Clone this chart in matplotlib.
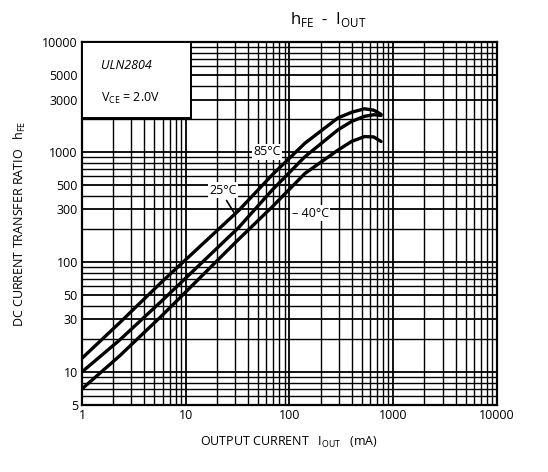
import matplotlib
matplotlib.use('Agg')
import matplotlib.pyplot as plt
from matplotlib.ticker import FixedLocator, NullFormatter, LogLocator

plt.rcParams['font.family'] = ['Open Sans', 'DejaVu Sans']

# Values (I_OUT in mA, hFE)
i_out = [1, 2.31, 6.0, 32.5, 67.8, 141, 294, 400, 530, 650, 765]
hfe_85 = [13.3, 28, 67, 294, 615, 1200, 2040, 2300, 2470, 2400, 2200]
hfe_25 = [10, 19.5, 45, 206, 448, 905, 1590, 1900, 2110, 2180, 2150]
hfe_m40 = [7.0, 14, 33, 161, 315, 637, 1040, 1250, 1380, 1370, 1245]

x_ticks = [1, 10, 100, 1000, 10000]
y_ticks = [5, 10, 30, 50, 100, 300, 500, 1000, 3000, 5000, 10000]

fig = plt.figure(figsize=(5.48, 4.72), dpi=100)
ax = fig.add_axes([0.1496, 0.142, 0.757, 0.769])

ax.set_xscale('log')
ax.set_yscale('log')
ax.set_xlim(1, 10000)
ax.set_ylim(5, 10000)

ax.xaxis.set_major_locator(FixedLocator(x_ticks))
ax.xaxis.set_minor_locator(LogLocator(base=10, subs=range(2, 10)))
ax.xaxis.set_minor_formatter(NullFormatter())
ax.set_xticklabels([str(t) for t in x_ticks])
ax.yaxis.set_major_locator(FixedLocator(y_ticks))
ax.yaxis.set_minor_locator(LogLocator(base=10, subs=range(2, 10)))
ax.yaxis.set_minor_formatter(NullFormatter())
ax.set_yticklabels([str(t) for t in y_ticks])
ax.tick_params(which='both', length=0, labelsize=9, pad=3)

ax.grid(which='major', color='black', lw=1.3)
ax.grid(which='minor', color='black', lw=1.0)
ax.set_axisbelow(True)
for s in ax.spines.values():
    s.set_linewidth(1.6)

for vals in (hfe_85, hfe_25, hfe_m40):
    ax.plot(i_out, vals, color='black', lw=2.4, solid_capstyle='round', zorder=3)

# inset box with part number
ax.add_patch(plt.Rectangle((0, 0.79), 0.262, 0.21, transform=ax.transAxes,
                           facecolor='white', edgecolor='black', lw=1.4, zorder=4))
ax.text(0.045, 0.935, 'ULN2804', transform=ax.transAxes, fontsize=9,
        style='italic', va='center', zorder=5)
ax.text(0.045, 0.845, r'V$_{\mathregular{CE}}$ = 2.0V', transform=ax.transAxes,
        fontsize=9, va='center', zorder=5)

box = dict(facecolor='white', edgecolor='none', pad=1)
ax.text(61, 1000, '85°C', fontsize=9, ha='center', va='center', bbox=box, zorder=4)
ax.text(23, 450, '25°C', fontsize=9, ha='center', va='center', bbox=box, zorder=4)
ax.text(159, 277, '– 40°C', fontsize=9, ha='center', va='center', bbox=box, zorder=4)
ax.annotate('', xy=(30, 270), xytext=(24, 380),
            arrowprops=dict(arrowstyle='-', color='black', lw=1.2), zorder=4)

fig.text(0.60, 0.958, r'h$_{\mathregular{FE}}$  -  I$_{\mathregular{OUT}}$',
         ha='center', va='center', fontsize=12)
ax.set_xlabel(r'OUTPUT CURRENT   I$_{\mathregular{OUT}}$   (mA)', fontsize=9, labelpad=9)
ax.set_ylabel(r'DC CURRENT TRANSFER RATIO   h$_{\mathregular{FE}}$', fontsize=9, labelpad=10)

fig.savefig('out.png', dpi=100)
